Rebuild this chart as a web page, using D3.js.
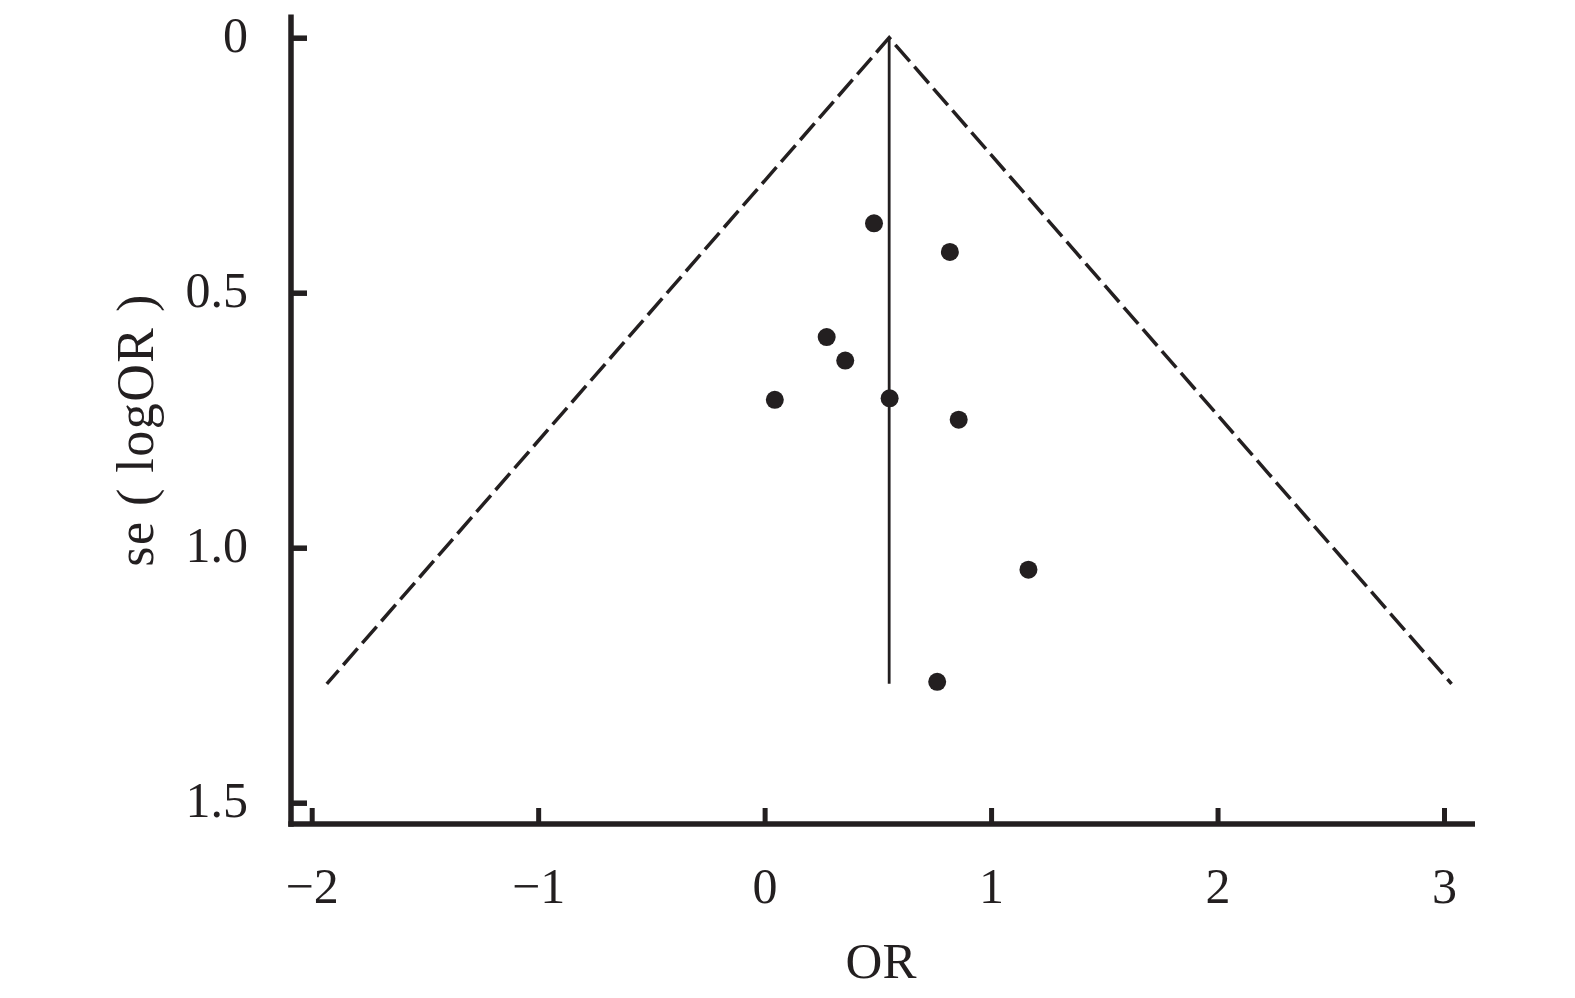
<!DOCTYPE html>
<html>
<head>
<meta charset="utf-8">
<script src="https://cdn.jsdelivr.net/npm/d3@7"></script>
<style>
  html, body { margin: 0; padding: 0; background: #fff; }
  svg { display: block; }
  text { font-family: "Liberation Serif", "DejaVu Serif", serif; fill: #231f20; }
</style>
</head>
<body>
<svg id="chart" width="1575" height="998"></svg>
<script>
// ---- data ----
const studyOR = [0.483, 0.818, 0.274, 0.356, 0.045, 0.552, 0.857, 1.165, 0.762];
const studySE = [0.364, 0.420, 0.587, 0.633, 0.710, 0.707, 0.749, 1.043, 1.263];
const pooledOR = 0.55;
const maxSE = 1.267;
const zCrit = 1.96;
const xTicks = [-2, -1, 0, 1, 2, 3];
const xTickLabels = ["\u22122", "\u22121", "0", "1", "2", "3"];
const yTicks = [0, 0.5, 1.0, 1.5];
const yTickLabels = ["0", "0.5", "1.0", "1.5"];
const xTitle = "OR";
const yTitle = "se ( logOR )";

// ---- layout ----
const ink = "#231f20";
const svg = d3.select("#chart");
const x = d3.scaleLinear().domain([-2, 3]).range([311.7, 1444]);
const y = d3.scaleLinear().domain([0, 1.5]).range([37.7, 802.7]);
const axisX0 = 291, axisY0 = 824;

// axis lines
svg.append("line").attr("x1", axisX0).attr("x2", axisX0)
  .attr("y1", 14.5).attr("y2", axisY0 + 2.7)
  .attr("stroke", ink).attr("stroke-width", 5.5);
svg.append("line").attr("x1", axisX0 - 2.7).attr("x2", 1475)
  .attr("y1", axisY0).attr("y2", axisY0)
  .attr("stroke", ink).attr("stroke-width", 5.5);

// y axis
const yAxis = d3.axisLeft(y).tickValues(yTicks)
  .tickFormat((d, i) => yTickLabels[i])
  .tickSizeInner(-16).tickSizeOuter(0).tickPadding(43);
const gy = svg.append("g").attr("transform", `translate(${axisX0},0)`).call(yAxis);
gy.select(".domain").remove();
gy.selectAll(".tick line").attr("stroke", ink).attr("stroke-width", 5.5);
gy.selectAll(".tick text").attr("font-size", 50).attr("dy", "0.28em")
  .attr("font-family", "Liberation Serif").attr("fill", ink);

// x axis
const xAxis = d3.axisBottom(x).tickValues(xTicks)
  .tickFormat((d, i) => xTickLabels[i])
  .tickSizeInner(-16).tickSizeOuter(0).tickPadding(43);
const gx = svg.append("g").attr("transform", `translate(0,${axisY0})`).call(xAxis);
gx.select(".domain").remove();
gx.selectAll(".tick line").attr("stroke", ink).attr("stroke-width", 5);
gx.selectAll(".tick text").attr("font-size", 50).attr("dy", "0.71em")
  .attr("font-family", "Liberation Serif").attr("fill", ink);

// funnel (pseudo 95% CI)
const funnel = [
  [pooledOR - zCrit * maxSE, maxSE],
  [pooledOR, 0],
  [pooledOR + zCrit * maxSE, maxSE]
];
svg.append("path")
  .attr("d", d3.line().x(d => x(d[0])).y(d => y(d[1]))(funnel))
  .attr("fill", "none").attr("stroke", ink).attr("stroke-width", 3.5)
  .attr("stroke-dasharray", "22,7").attr("stroke-dashoffset", 4)
  .attr("stroke-linejoin", "miter");

// pooled estimate vertical line
svg.append("line")
  .attr("x1", x(pooledOR)).attr("x2", x(pooledOR))
  .attr("y1", y(0)).attr("y2", y(maxSE))
  .attr("stroke", ink).attr("stroke-width", 2.8);

// study points
svg.append("g").selectAll("circle")
  .data(studyOR.map((v, i) => ({ or: v, se: studySE[i] })))
  .join("circle")
  .attr("cx", d => x(d.or)).attr("cy", d => y(d.se))
  .attr("r", 9).attr("fill", ink);

// axis titles
svg.append("text").attr("x", 881).attr("y", 978)
  .attr("text-anchor", "middle").attr("font-size", 51).text(xTitle);
svg.append("text")
  .attr("transform", "translate(153,430) rotate(-90)")
  .attr("text-anchor", "middle").attr("font-size", 52)
  .attr("letter-spacing", 1.5).text(yTitle);
</script>
</body>
</html>
